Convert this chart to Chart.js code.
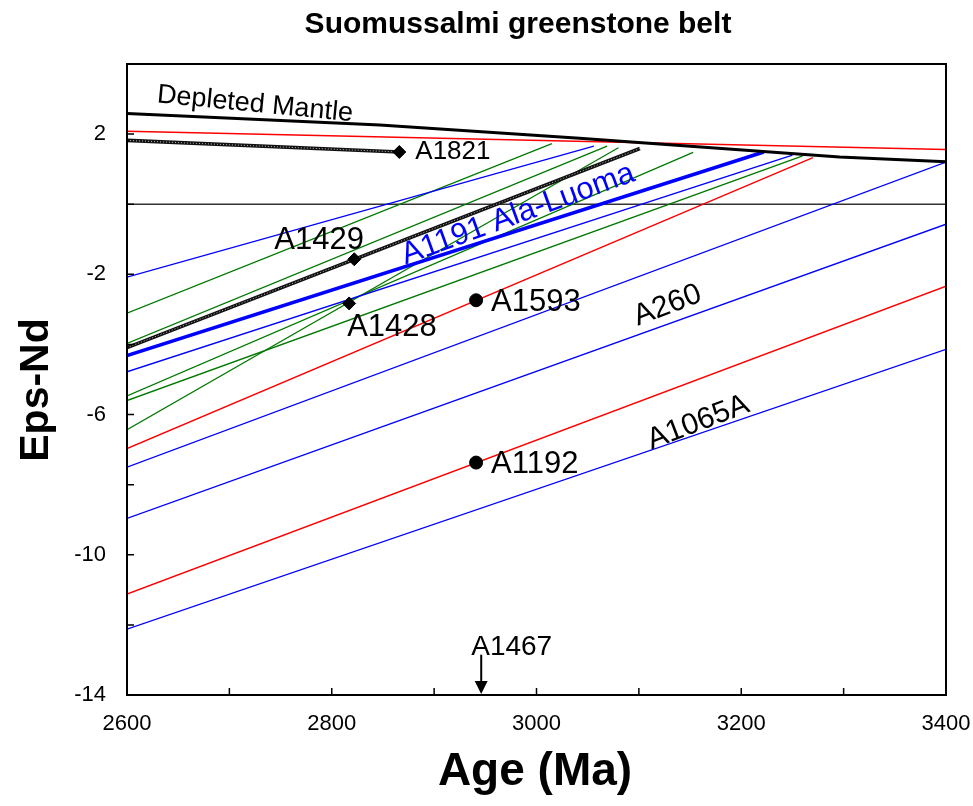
<!DOCTYPE html>
<html>
<head>
<meta charset="utf-8">
<title>Suomussalmi greenstone belt</title>
<script src="https://cdn.jsdelivr.net/npm/chart.js@4.4.1/dist/chart.umd.min.js"></script>
<style>
  html, body { margin: 0; padding: 0; background: #fff; }
  #wrap { width: 973px; height: 806px; }
</style>
</head>
<body>
<div id="wrap"><canvas id="myChart" width="973" height="806"></canvas></div>
<script>
// axis ranges
const ageMin = 2600
const ageMax = 3400
const epsMin = -14
const epsMax = 4
const xTickLabels = [2600, 2800, 3000, 3200, 3400]
const yTickLabels = [2, -2, -6, -10, -14]

// depleted mantle curve
const dmAge = [2600, 2847, 3042, 3296, 3400]
const dmEps = [2.59, 2.26, 1.88, 1.35, 1.21]

// flat red line near the top
const topRedAge = [2600, 3400]
const topRedEps = [2.08, 1.56]

// A1821
const a1821Age = [2600, 2866]
const a1821Eps = [1.82, 1.49]

// A1429
const a1429Age = [2600, 3101]
const a1429Eps = [-4.09, 1.59]

// A1191 Ala-Luoma
const alaLuomaAge = [2600, 3222]
const alaLuomaEps = [-4.32, 1.49]

// other evolution lines: eps at 2600 Ma and where each one stops
const blueStartEps = [-2.08, -4.78, -7.50, -8.96, -12.12]
const blueEndAge = [3056, 3250, 3400, 3400, 3400]
const blueEndEps = [1.66, 1.40, 1.20, -0.57, -4.14]

const greenStartEps = [-3.11, -3.97, -5.47, -5.60, -6.43]
const greenEndAge = [3015, 3069, 3153, 3260, 3080]
const greenEndEps = [1.73, 1.66, 1.48, 1.38, 1.61]

const redStartEps = [-6.97, -11.12]
const redEndAge = [3270, 3400]
const redEndEps = [1.33, -2.34]

// samples
const diamondNames = ['A1821', 'A1429', 'A1428']
const diamondAge = [2866, 2822, 2817]
const diamondEps = [1.49, -1.57, -2.83]

const circleNames = ['A1593', 'A1192']
const circleAge = [2941, 2941]
const circleEps = [-2.74, -7.37]

const a1467Age = 2946

const BLUE = '#0000FF'
const GREEN = '#007800'
const RED = '#FF0000'
const FONT = "'Liberation Sans', Arial, Helvetica, sans-serif"

function pts(ages, eps){
    return ages.map((a, i) => ({x: a, y: eps[i]}))
}
function seg(ages, eps, color, width, extra){
    return Object.assign({
        data: pts(ages, eps),
        showLine: true,
        borderColor: color,
        borderWidth: width,
        pointRadius: 0,
        fill: false,
        tension: 0
    }, extra || {})
}

const datasets = []

// markers on top
datasets.push({
    data: pts(diamondAge, diamondEps),
    showLine: false,
    pointStyle: 'rectRot',
    pointRadius: 6.5,
    backgroundColor: '#000',
    borderColor: '#000',
    borderWidth: 1
})
datasets.push({
    data: pts(circleAge, circleEps),
    showLine: false,
    pointStyle: 'circle',
    pointRadius: 6.5,
    backgroundColor: '#000',
    borderColor: '#000',
    borderWidth: 1
})

// speckled lines: black base with a light dash over it
datasets.push(seg(a1821Age, a1821Eps, 'rgba(255,255,255,0.7)', 1, {borderDash: [1, 2]}))
datasets.push(seg(a1821Age, a1821Eps, '#111', 3.6))
datasets.push(seg(a1429Age, a1429Eps, 'rgba(255,255,255,0.7)', 1, {borderDash: [1, 2]}))
datasets.push(seg(a1429Age, a1429Eps, '#111', 3.6))

datasets.push(seg(dmAge, dmEps, '#000', 3))
datasets.push(seg(alaLuomaAge, alaLuomaEps, BLUE, 3.5))
datasets.push(seg(topRedAge, topRedEps, RED, 1.4))

redStartEps.forEach((s, i) => datasets.push(seg([ageMin, redEndAge[i]], [s, redEndEps[i]], RED, 1.4)))
blueStartEps.forEach((s, i) => datasets.push(seg([ageMin, blueEndAge[i]], [s, blueEndEps[i]], BLUE, 1.3)))
greenStartEps.forEach((s, i) => datasets.push(seg([ageMin, greenEndAge[i]], [s, greenEndEps[i]], GREEN, 1.3)))

// eps = 0 reference line
datasets.push(seg([ageMin, ageMax], [0, 0], '#333', 1.5))

function text(ctx, str, x, y, opts){
    ctx.save()
    ctx.font = opts.font
    ctx.fillStyle = opts.color || '#000'
    ctx.textAlign = opts.align || 'left'
    ctx.textBaseline = opts.baseline || 'middle'
    ctx.translate(x, y)
    if(opts.angle) ctx.rotate(opts.angle * Math.PI / 180)
    ctx.fillText(str, 0, 0)
    ctx.restore()
}

const overlay = {
    id: 'overlay',
    afterDraw(chart){
        const ctx = chart.ctx
        const xs = chart.scales.x
        const ys = chart.scales.y
        const area = chart.chartArea
        const X = v => xs.getPixelForValue(v)
        const Y = v => ys.getPixelForValue(v)

        // plot frame and inward ticks
        ctx.save()
        ctx.strokeStyle = '#000'
        ctx.lineWidth = 2
        ctx.strokeRect(area.left, area.top, area.right - area.left, area.bottom - area.top)
        ctx.lineWidth = 1.5
        ctx.beginPath()
        for(let v = epsMin + 2; v < epsMax; v += 2){
            ctx.moveTo(area.left, Y(v))
            ctx.lineTo(area.left + 7, Y(v))
        }
        for(let a = ageMin + 100; a < ageMax; a += 100){
            ctx.moveTo(X(a), area.bottom)
            ctx.lineTo(X(a), area.bottom - 7)
        }
        ctx.stroke()
        ctx.restore()

        // titles
        text(ctx, 'Suomussalmi greenstone belt', 518, 25, {font: `bold 30px ${FONT}`, align: 'center'})
        text(ctx, 'Age (Ma)', 535, 785, {font: `bold 46px ${FONT}`, align: 'center', baseline: 'alphabetic'})
        text(ctx, 'Eps-Nd', 48, 390, {font: `bold 41px ${FONT}`, align: 'center', baseline: 'alphabetic', angle: -90})

        // line labels
        text(ctx, 'Depleted Mantle', X(2725), Y(2.85), {font: `27px ${FONT}`, align: 'center', angle: 5.5})
        text(ctx, 'A1191 Ala-Luoma', X(2982), Y(-0.29), {font: `31px ${FONT}`, align: 'center', angle: -20, color: BLUE})
        text(ctx, 'A260', X(3128), Y(-2.89), {font: `30px ${FONT}`, align: 'center', angle: -21})
        text(ctx, 'A1065A', X(3158), Y(-6.23), {font: `30px ${FONT}`, align: 'center', angle: -21})

        // sample labels
        text(ctx, diamondNames[0], X(diamondAge[0]) + 16, Y(diamondEps[0]), {font: `26px ${FONT}`})
        text(ctx, diamondNames[1], X(diamondAge[1]) - 80, Y(diamondEps[1]) - 19, {font: `31px ${FONT}`})
        text(ctx, diamondNames[2], X(diamondAge[2]) - 2, Y(diamondEps[2]) + 24, {font: `31px ${FONT}`})
        circleNames.forEach((n, i) => {
            text(ctx, n, X(circleAge[i]) + 15, Y(circleEps[i]) + 2, {font: `31px ${FONT}`})
        })

        // A1467 arrow down to the axis
        const ax = X(a1467Age)
        ctx.save()
        ctx.strokeStyle = '#000'
        ctx.fillStyle = '#000'
        ctx.lineWidth = 2
        ctx.beginPath()
        ctx.moveTo(ax, Y(-12.85))
        ctx.lineTo(ax, Y(-13.6))
        ctx.stroke()
        ctx.beginPath()
        ctx.moveTo(ax - 6.5, Y(-13.6))
        ctx.lineTo(ax + 6.5, Y(-13.6))
        ctx.lineTo(ax, Y(epsMin) - 1)
        ctx.closePath()
        ctx.fill()
        ctx.restore()
        text(ctx, 'A1467', ax - 10, Y(-12.65), {font: `28px ${FONT}`})
    }
}

new Chart(document.getElementById('myChart'), {
    type: 'scatter',
    data: { datasets },
    options: {
        responsive: false,
        animation: false,
        devicePixelRatio: 1,
        layout: { padding: { top: 64, right: 27, left: 0, bottom: 0 } },
        plugins: {
            legend: { display: false },
            tooltip: { enabled: false }
        },
        scales: {
            x: {
                type: 'linear',
                min: ageMin,
                max: ageMax,
                grid: { display: false },
                border: { display: false },
                afterFit: s => { s.height = 111; s.paddingLeft = 0; s.paddingRight = 0 },
                ticks: {
                    stepSize: 100,
                    autoSkip: false,
                    maxRotation: 0,
                    padding: 8,
                    color: '#000',
                    font: { family: FONT, size: 22 },
                    callback: v => xTickLabels.includes(v) ? String(v) : ''
                }
            },
            y: {
                type: 'linear',
                min: epsMin,
                max: epsMax,
                grid: { display: false },
                border: { display: false },
                afterFit: s => { s.width = 127; s.paddingTop = 0; s.paddingBottom = 0 },
                ticks: {
                    stepSize: 2,
                    autoSkip: false,
                    padding: 13,
                    color: '#000',
                    font: { family: FONT, size: 22 },
                    callback: v => yTickLabels.includes(v) ? String(v) : ''
                }
            }
        }
    },
    plugins: [overlay]
})
</script>
</body>
</html>
